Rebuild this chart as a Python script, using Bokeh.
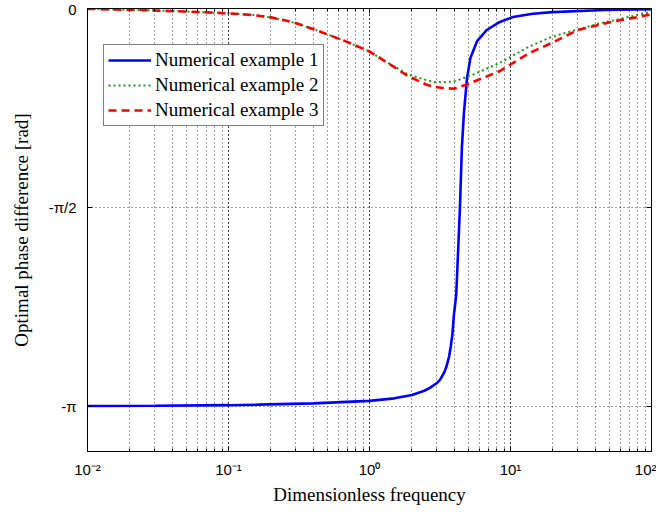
import math
from bokeh.plotting import figure
from bokeh.models import (FixedTicker, LogTicker, LinearAxis, LogAxis, Range1d,
                          CustomJSTickFormatter, Legend, LegendItem)
from bokeh.embed import file_html
from bokeh.resources import INLINE

# ---------------- data ----------------
freq_1 = [0.01, 0.03, 0.1, 0.16, 0.4, 1.0, 1.5, 2.0, 2.45, 2.7, 3.04, 3.2, 3.39, 3.5,
          3.67, 3.77, 3.87, 3.97, 4.12, 4.25, 4.38, 4.52, 4.67, 4.92, 5.2, 5.78,
          6.78, 8.4, 10.4, 14.4, 19.8, 46.0, 100.0]
phase_1 = [-3.141, -3.139, -3.134, -3.130, -3.120, -3.100, -3.080, -3.054, -3.020,
           -2.995, -2.955, -2.925, -2.875, -2.835, -2.750, -2.670, -2.576, -2.420,
           -2.265, -1.920, -1.571, -1.100, -0.830, -0.546, -0.390, -0.260, -0.170,
           -0.106, -0.067, -0.041, -0.029, -0.012, -0.005]

freq_2 = [0.01, 0.027, 0.05, 0.1, 0.15, 0.2, 0.25, 0.31, 0.44, 0.68, 1.0, 1.29, 1.87,
          2.58, 2.88, 3.3, 3.97, 5.48, 8.4, 13.6, 19.8, 42.0, 93.0, 100.0]
phase_2 = [-0.003, -0.014, -0.024, -0.038, -0.052, -0.070, -0.093, -0.120, -0.180,
           -0.260, -0.340, -0.415, -0.520, -0.568, -0.580, -0.583, -0.577, -0.520,
           -0.430, -0.300, -0.222, -0.120, -0.035, -0.030]

freq_3 = [0.01, 0.027, 0.05, 0.1, 0.15, 0.2, 0.25, 0.31, 0.44, 0.68, 1.0, 1.29, 1.87,
          2.58, 2.88, 3.3, 3.97, 4.92, 6.5, 8.4, 9.3, 13.6, 19.8, 30.0, 51.8, 100.0]
phase_3 = [-0.003, -0.014, -0.024, -0.038, -0.052, -0.070, -0.093, -0.120, -0.180,
           -0.260, -0.340, -0.417, -0.533, -0.605, -0.618, -0.628, -0.634, -0.600,
           -0.545, -0.494, -0.464, -0.352, -0.270, -0.170, -0.106, -0.047]

series_names = ["Numerical example 1", "Numerical example 2", "Numerical example 3"]

x_tick_values = [0.01, 0.1, 1.0, 10.0, 100.0]
x_tick_labels = ["10\u207b\u00b2", "10\u207b\u00b9", "10\u2070", "10\u00b9", "10\u00b2"]
y_tick_values = [-math.pi, -math.pi / 2, 0.0]
y_tick_labels = ["-\u03c0", "-\u03c0/2", "0"]

x_title = "Dimensionless frequency"
y_title = "Optimal phase difference [rad]"

# ---------------- figure ----------------
p = figure(width=656, height=507, x_axis_type="log",
           x_range=Range1d(0.01, 100), y_range=Range1d(-3.5, 0.0),
           output_backend="svg", toolbar_location=None,
           min_border_left=87, min_border_right=5, min_border_top=8,
           min_border_bottom=50)
p.background_fill_color = "white"
p.border_fill_color = "white"
p.outline_line_color = "black"
p.outline_line_width = 1

xticker = LogTicker(mantissas=[1], num_minor_ticks=10)
yticker = FixedTicker(ticks=y_tick_values, minor_ticks=[])

xfmt = CustomJSTickFormatter(args=dict(vals=x_tick_values, labs=x_tick_labels), code="""
for (let i = 0; i < vals.length; i++) {
  if (Math.abs(Math.log10(tick) - Math.log10(vals[i])) < 1e-6) return labs[i];
}
return "";
""")
yfmt = CustomJSTickFormatter(args=dict(vals=y_tick_values, labs=y_tick_labels), code="""
for (let i = 0; i < vals.length; i++) {
  if (Math.abs(tick - vals[i]) < 1e-6) return labs[i];
}
return "";
""")
empty_fmt = CustomJSTickFormatter(code="return '';")

xa = p.xaxis[0]
xa.ticker = xticker
xa.formatter = xfmt
ya = p.yaxis[0]
ya.ticker = yticker
ya.formatter = yfmt

for ax in (xa, ya):
    ax.axis_line_color = "black"
    ax.major_tick_line_color = "black"
    ax.minor_tick_line_color = "black"
    ax.major_tick_in = 5
    ax.major_tick_out = 0
    ax.minor_tick_in = 3
    ax.minor_tick_out = 0
    ax.major_label_text_font = "Liberation Sans"
    ax.major_label_text_font_size = "15px"
    ax.major_label_text_color = "black"
    ax.axis_label_text_font = "Liberation Serif"
    ax.axis_label_text_font_size = "19px"
    ax.axis_label_text_font_style = "normal"
    ax.axis_label_text_color = "black"

xa.axis_label = x_title
xa.major_label_standoff = 9
xa.axis_label_standoff = 3
ya.axis_label = y_title
ya.major_label_standoff = 11
ya.axis_label_standoff = 14

# box axes (ticks only)
top = LogAxis(ticker=xticker, formatter=empty_fmt)
right = LinearAxis(ticker=yticker, formatter=empty_fmt)
for ax in (top, right):
    ax.axis_line_color = "black"
    ax.major_tick_line_color = "black"
    ax.minor_tick_line_color = "black"
    ax.major_tick_in = 5
    ax.major_tick_out = 0
    ax.minor_tick_in = 3
    ax.minor_tick_out = 0
    ax.major_label_standoff = 0
    ax.major_label_text_font_size = "0px"
p.add_layout(top, "above")
p.add_layout(right, "right")

# grids
p.xgrid.ticker = xticker
p.ygrid.ticker = yticker
for g in (p.xgrid, p.ygrid):
    g.grid_line_color = "black"
    g.grid_line_alpha = 0.75
    g.grid_line_dash = "1 3"
    g.grid_line_width = 1
p.xgrid.minor_grid_line_color = "black"
p.xgrid.minor_grid_line_alpha = 0.75
p.xgrid.minor_grid_line_dash = "1 3"
p.xgrid.minor_grid_line_width = 1

# series
r1 = p.line(freq_1, phase_1, line_color="#0000ff", line_width=2.6)
r2 = p.line(freq_2, phase_2, line_color="#159a15", line_width=2, line_dash="2 3")
r3 = p.line(freq_3, phase_3, line_color="#ff0000", line_width=2.6, line_dash="8 5")

legend = Legend(items=[LegendItem(label=series_names[0], renderers=[r1]),
                       LegendItem(label=series_names[1], renderers=[r2]),
                       LegendItem(label=series_names[2], renderers=[r3])],
                location=(16, 325))
legend.border_line_color = "black"
legend.border_line_width = 1
legend.background_fill_color = "white"
legend.background_fill_alpha = 1.0
legend.label_text_font = "Liberation Serif"
legend.label_text_font_size = "19px"
legend.label_text_color = "black"
legend.glyph_width = 43
legend.glyph_height = 20
legend.label_height = 20
legend.label_standoff = 4
legend.spacing = 3
legend.padding = 4
legend.margin = 0
p.add_layout(legend, "center")

open("out.html", "w").write(file_html(p, INLINE))
